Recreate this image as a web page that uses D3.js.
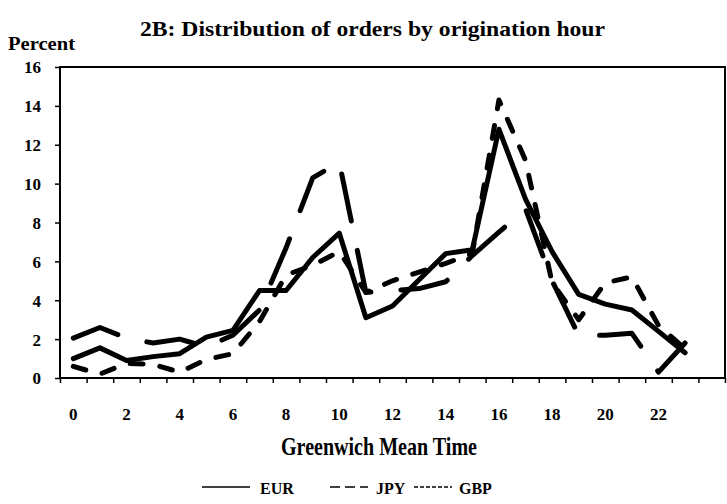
<!DOCTYPE html>
<html>
<head>
<meta charset="utf-8">
<script src="https://cdn.jsdelivr.net/npm/d3@7/dist/d3.min.js"></script>
<style>
  body { margin: 0; background: #fff; }
  svg text { font-family: "Liberation Serif", "Times New Roman", serif; font-weight: bold; fill: #000; }
</style>
</head>
<body>
<div id="chart"></div>
<script>
// hours on the x axis (last band is left empty, like the original)
var hours = d3.range(0, 24);
var bands = d3.range(0, 25);
var xTickLabels = [0, 2, 4, 6, 8, 10, 12, 14, 16, 18, 20, 22];
var yTicks = [0, 2, 4, 6, 8, 10, 12, 14, 16];

// percent of orders per hour
var eurValues = [1.0, 1.55, 0.9, 1.1, 1.25, 2.1, 2.45, 4.5, 4.5, 6.2, 7.45, 3.1,
                 3.7, 5.05, 6.4, 6.6, 12.8, 9.2, 6.5, 4.3, 3.8, 3.5, 2.4, 1.3];
var jpyValues = [2.05, 2.6, 2.05, 1.8, 2.0, 1.6, 2.2, 3.5, 6.7, 10.3, 11.1, 4.4,
                 4.5, 4.6, 4.95, 6.3, 7.5, 8.7, 5.0, 2.2, 2.2, 2.3, 0.3, 1.8];
var gbpValues = [0.6, 0.2, 0.75, 0.7, 0.3, 0.95, 1.25, 2.9, 5.3, 5.8, 6.5, 4.4,
                 5.0, 5.45, 5.9, 6.4, 14.3, 11.2, 4.9, 3.0, 4.9, 5.2, 2.7, 1.5];

var seriesNames = ["EUR", "JPY", "GBP"];

var width = 727, height = 504;
var plot = {left: 60, right: 725, top: 67, bottom: 378};

var svg = d3.select("#chart").append("svg")
  .attr("width", width)
  .attr("height", height);

var x = d3.scaleBand().domain(bands).range([plot.left, plot.right]).padding(0);
var xEdge = d3.scaleLinear().domain([0, bands.length]).range([plot.left, plot.right]);
var y = d3.scaleLinear().domain([0, 16]).range([plot.bottom, plot.top]);

// title + axis captions
svg.append("text")
  .attr("x", 140).attr("y", 36)
  .attr("font-size", 21)
  .attr("textLength", 465).attr("lengthAdjust", "spacingAndGlyphs")
  .text("2B:  Distribution of orders by origination hour");

svg.append("text")
  .attr("x", 8).attr("y", 50)
  .attr("font-size", 18)
  .attr("textLength", 67).attr("lengthAdjust", "spacingAndGlyphs")
  .text("Percent");

svg.append("text")
  .attr("x", 281).attr("y", 455)
  .attr("font-size", 26)
  .attr("textLength", 196).attr("lengthAdjust", "spacingAndGlyphs")
  .text("Greenwich Mean Time");

// y axis
var yAxis = svg.append("g")
  .attr("transform", "translate(" + plot.left + ",0)")
  .call(d3.axisLeft(y).tickValues(yTicks).tickSize(5).tickPadding(14));
yAxis.select(".domain").remove();
yAxis.selectAll("line").attr("stroke", "#000").attr("stroke-width", 1.5);
yAxis.selectAll("text").attr("font-size", 17).attr("dy", "0.35em");

// x axis ticks between categories
var xTicks = svg.append("g")
  .attr("transform", "translate(0," + plot.bottom + ")")
  .call(d3.axisBottom(xEdge).tickValues(d3.range(0, bands.length + 1)).tickSize(5).tickFormat(""));
xTicks.select(".domain").remove();
xTicks.selectAll("line").attr("stroke", "#000").attr("stroke-width", 1.5);

// x labels on category centres
var xLabels = svg.append("g")
  .attr("transform", "translate(0," + plot.bottom + ")")
  .call(d3.axisBottom(x).tickValues(xTickLabels).tickSize(0).tickPadding(30));
xLabels.select(".domain").remove();
xLabels.selectAll("text").attr("font-size", 17);

// plot frame
svg.append("rect")
  .attr("x", plot.left).attr("y", plot.top)
  .attr("width", plot.right - plot.left)
  .attr("height", plot.bottom - plot.top)
  .attr("fill", "none")
  .attr("stroke", "#000")
  .attr("stroke-width", 2);

// lines
var line = d3.line()
  .x(function(d) { return x(d.h) + x.bandwidth() / 2; })
  .y(function(d) { return y(d.v); });

function toPoints(vals) {
  return hours.map(function(h, i) { return {h: h, v: vals[i]}; });
}

var series = [
  {name: "EUR", values: eurValues, dash: null},
  {name: "JPY", values: jpyValues, dash: "48,30"},
  {name: "GBP", values: gbpValues, dash: "13,17"}
];

svg.append("g").selectAll("path")
  .data(series)
  .enter()
  .append("path")
  .attr("d", function(d) { return line(toPoints(d.values)); })
  .attr("fill", "none")
  .attr("stroke", "#000")
  .attr("stroke-width", 5)
  .attr("stroke-linecap", "round")
  .attr("stroke-linejoin", "round")
  .attr("stroke-dasharray", function(d) { return d.dash; });

// legend
var legendItems = [
  {name: seriesNames[0], x1: 202, x2: 250, tx: 260, dash: null},
  {name: seriesNames[1], x1: 330, x2: 368, tx: 376, dash: "10,5,10,5,10,6,2"},
  {name: seriesNames[2], x1: 414, x2: 452, tx: 459, dash: "4,2"}
];
var legend = svg.append("g");
legendItems.forEach(function(it) {
  legend.append("line")
    .attr("x1", it.x1).attr("x2", it.x2)
    .attr("y1", 487).attr("y2", 487)
    .attr("stroke", "#000")
    .attr("stroke-width", 1.5)
    .attr("stroke-dasharray", it.dash);
  legend.append("text")
    .attr("x", it.tx).attr("y", 494)
    .attr("font-size", 16)
    .text(it.name);
});
</script>
</body>
</html>
